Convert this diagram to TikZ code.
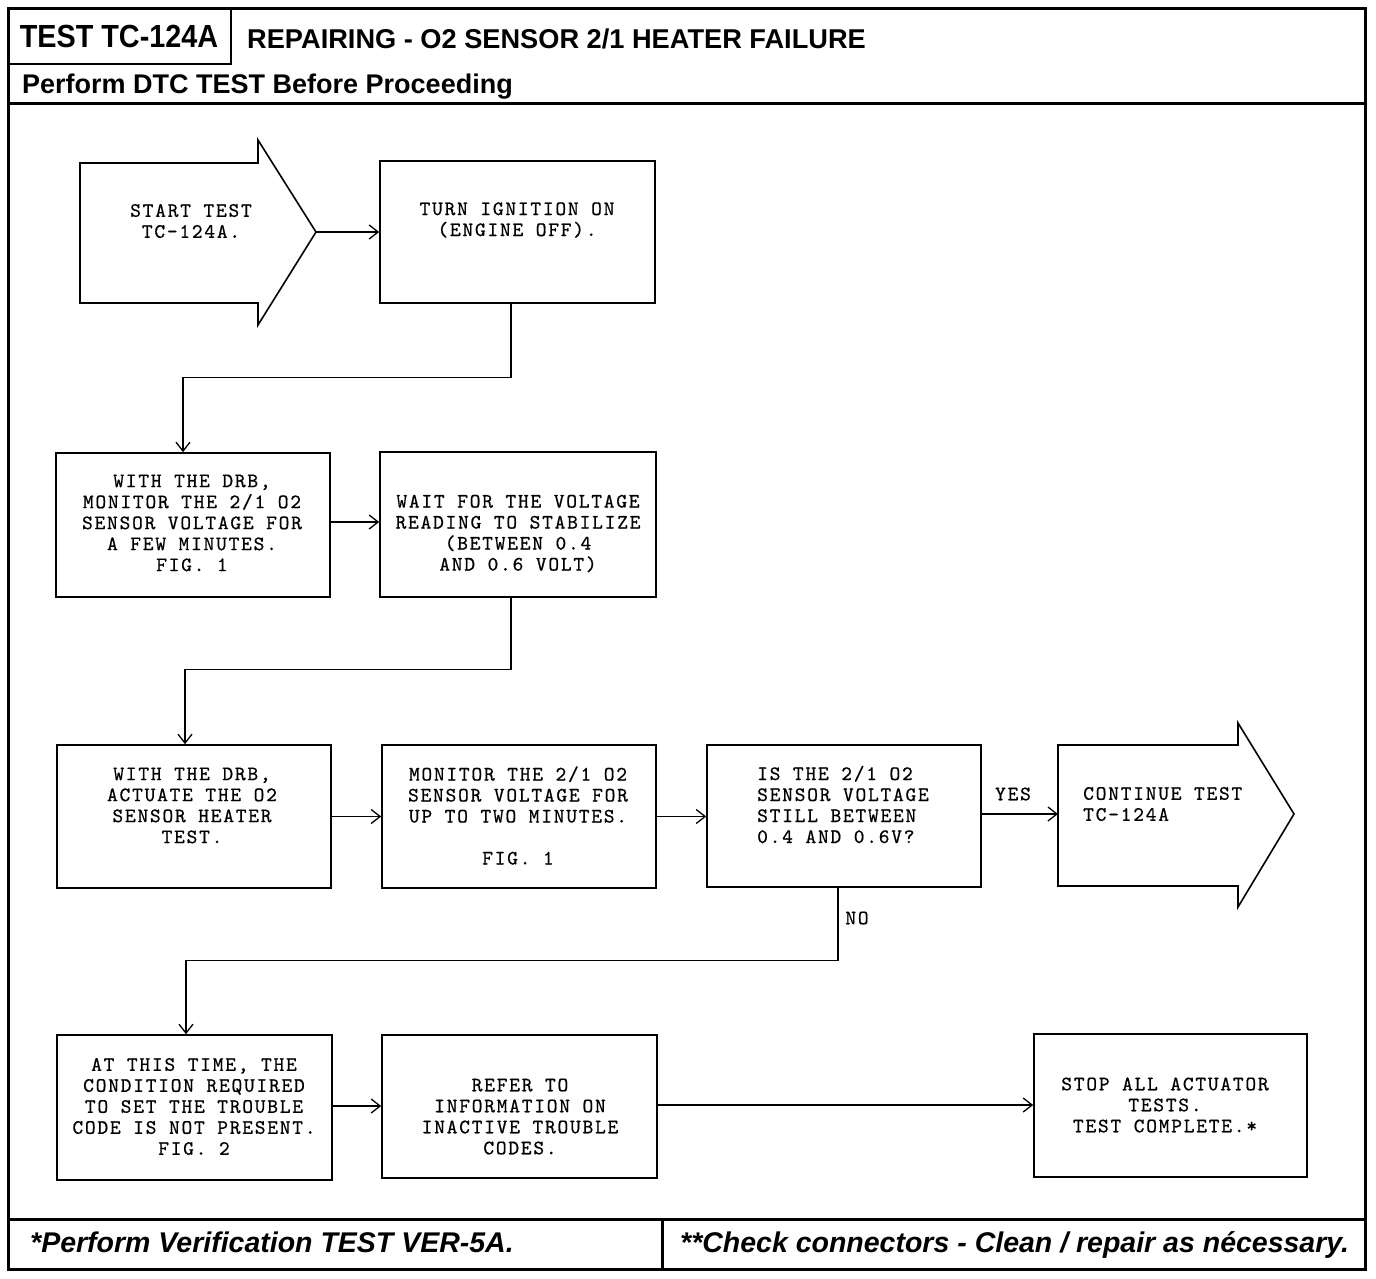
\documentclass[tikz,border=0pt]{standalone}
\usepackage{fontspec}
\usetikzlibrary{arrows.meta}
\newfontfamily\mono{lmmono10-regular.otf}[LetterSpace=8.5, FakeBold=0.6]
\newfontfamily\hdr{Liberation Sans}
\newfontfamily\ttlfont{Liberation Sans}[FakeStretch=0.9]
\begin{document}
\begin{tikzpicture}[x=1pt,y=-1pt,
  frame/.style={line width=3pt},
  box/.style={draw, line width=1.6pt, inner sep=0pt},
  txt/.style={font=\mono\fontsize{20.5}{21}\selectfont, align=center, inner sep=0pt},
  ltxt/.style={font=\mono\fontsize{20.5}{21}\selectfont, align=left, inner sep=0pt, anchor=west},
  conn/.style={line width=1.3pt, -{Straight Barb[length=9pt,width=14pt,line width=1.3pt]}},
  arrowshape/.style={line width=1.6pt, line join=miter},
  hdrtext/.style={font=\hdr\bfseries\fontsize{27.2}{30}\selectfont, inner sep=0pt, anchor=base west},
  foottext/.style={font=\hdr\bfseries\itshape\fontsize{28.5}{32}\selectfont, inner sep=0pt, anchor=base west}]
\useasboundingbox (0,0) rectangle (1376,1278);

% ---- frame and header ----
\draw[frame] (8,8) rectangle (1365,1269);
\draw[frame] (8,103) -- (1365,103);
\draw[frame] (8,1219) -- (1365,1219);
\draw[frame] (662,1219) -- (662,1269);
\node[draw, line width=2.2pt, minimum width=222pt, minimum height=55pt, inner sep=0pt, anchor=north west] (titlebox) at (8,8) {};
\node[font=\ttlfont\bfseries\fontsize{32}{34}\selectfont, inner sep=0pt, anchor=base] (title) at (119,47) {TEST TC-124A};
\node[hdrtext] (subtitle) at (247,48) {REPAIRING - O2 SENSOR 2/1 HEATER FAILURE};
\node[hdrtext, font=\hdr\bfseries\fontsize{27}{30}\selectfont] (perform) at (22,93) {Perform DTC TEST Before Proceeding};
\node[foottext] (foot1) at (30,1252) {*Perform Verification TEST VER-5A.};
\node[foottext] (foot2) at (680,1252) {**Check connectors - Clean / repair as nécessary.};

% ---- start arrow ----
\draw[arrowshape] (80,163) -- (258,163) -- (258,140) -- (316,232) -- (258,325) -- (258,303) -- (80,303) -- cycle;
\coordinate (starttip) at (316,232);
\node[txt] (starttxt) at (191,221) {START TEST\\TC-124A.};

% ---- continue arrow ----
\draw[arrowshape] (1058,745) -- (1238,745) -- (1238,723) -- (1294,814) -- (1238,907) -- (1238,886) -- (1058,886) -- cycle;
\coordinate (contw) at (1058,814);
\node[ltxt] (conttxt) at (1083,804) {CONTINUE TEST\\TC-124A};

% ---- boxes ----
\node[box, minimum width=275pt, minimum height=142pt] (turn) at (517.5,232) {};
\node[txt] (turntxt) at (517,220) {TURN IGNITION ON\\(ENGINE OFF).};

\node[box, minimum width=274pt, minimum height=144pt] (mon1) at (193,525) {};
\node[txt] (mon1txt) at (192,523) {WITH THE DRB,\\MONITOR THE 2/1 O2\\SENSOR VOLTAGE FOR\\A FEW MINUTES.\\FIG. 1};

\node[box, minimum width=276pt, minimum height=145pt] (wait) at (518,524.5) {};
\node[txt] (waittxt) at (518,533.5) {WAIT FOR THE VOLTAGE\\READING TO STABILIZE\\(BETWEEN 0.4\\AND 0.6 VOLT)};

\node[box, minimum width=274pt, minimum height=143pt] (act) at (194,816.5) {};
\node[txt] (acttxt) at (192,805.5) {WITH THE DRB,\\ACTUATE THE O2\\SENSOR HEATER\\TEST.};

\node[box, minimum width=274pt, minimum height=143pt] (mon2) at (519,816.5) {};
\node[txt] (mon2txt) at (518,815.5) {MONITOR THE 2/1 O2\\SENSOR VOLTAGE FOR\\UP TO TWO MINUTES.\\[21pt]FIG. 1};

\node[box, minimum width=274pt, minimum height=142pt] (isq) at (844,816) {};
\node[ltxt] (isqtxt) at (757,804.5) {IS THE 2/1 O2\\SENSOR VOLTAGE\\STILL BETWEEN\\0.4 AND 0.6V?};

\node[box, minimum width=275pt, minimum height=145pt] (atthis) at (194.5,1107.5) {};
\node[txt] (atthistxt) at (194,1106.5) {AT THIS TIME, THE\\CONDITION REQUIRED\\TO SET THE TROUBLE\\CODE IS NOT PRESENT.\\FIG. 2};

\node[box, minimum width=275pt, minimum height=143pt] (refer) at (519.5,1106.5) {};
\node[txt] (refertxt) at (520,1116.5) {REFER TO\\INFORMATION ON\\INACTIVE TROUBLE\\CODES.};

\node[box, minimum width=273pt, minimum height=143pt] (stop) at (1170.5,1105.5) {};
\node[txt] (stoptxt) at (1165,1105) {STOP ALL ACTUATOR\\TESTS.\\TEST COMPLETE.*};

% ---- labels ----
\node[txt] (yes) at (1013,794) {YES};
\node[txt] (no) at (857,918) {NO};

% ---- connectors ----
\draw[conn] (starttip) -- (starttip -| turn.west);
\draw[conn] ([xshift=-6.5pt]turn.south) -- ++(0,74) -| ([xshift=-10pt]mon1.north);
\draw[conn] ([yshift=3pt]mon1.east) -- ([yshift=3pt]mon1.east -| wait.west);
\draw[conn] ([xshift=-7pt]wait.south) -- ++(0,72) -| ([xshift=-9pt]act.north);
\draw[conn] (act.east) -- (act.east -| mon2.west);
\draw[conn] (mon2.east) -- (mon2.east -| isq.west);
\draw[conn] ([yshift=2pt]isq.east) -- (contw);
\draw[conn] ([xshift=-6pt]isq.south) -- ++(0,73) -| ([xshift=-8.5pt]atthis.north);
\draw[conn] ([yshift=1.5pt]atthis.east) -- ([yshift=1.5pt]atthis.east -| refer.west);
\draw[conn] ([yshift=1.5pt]refer.east) -- ([yshift=1.5pt]refer.east -| stop.west);
\end{tikzpicture}
\end{document}
